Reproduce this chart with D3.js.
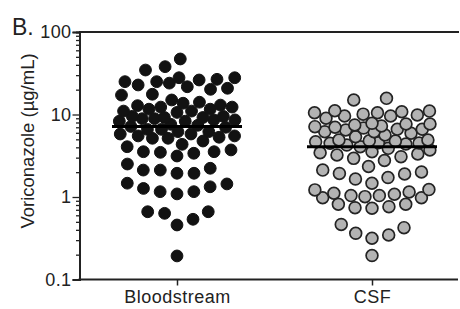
<!DOCTYPE html>
<html>
<head>
<meta charset="utf-8">
<script src="https://cdn.jsdelivr.net/npm/d3@7"></script>
<style>
  body { margin: 0; background: #fff; }
  text { font-family: "Liberation Sans", Arial, sans-serif; fill: #222; }
</style>
</head>
<body>
<svg id="chart" width="460" height="309"></svg>
<script>
// groups on the x axis
var categories = ["Bloodstream", "CSF"];

// voriconazole levels (ug/mL)
var bloodstream = [
  47.1, 38.0, 34.6,
  27.9, 26.7, 25.0, 24.0, 25.0, 26.2, 27.9,
  21.7, 20.2, 20.8, 22.8,
  17.2, 17.6,
  13.7, 15.0, 14.1,
  13.0, 12.3, 11.6, 11.0, 10.6, 11.0, 11.6, 12.3, 12.8,
  9.5, 9.2, 8.9, 8.6, 8.3, 8.3, 8.6, 8.9, 9.2, 9.5,
  7.6, 7.4, 7.16, 7.0, 6.6, 6.2, 5.8, 5.5, 5.3, 5.5, 5.8, 6.2, 6.6,
  5.15, 4.35, 3.72, 3.54, 3.39, 3.48, 3.54, 4.07, 4.77, 5.15,
  3.14, 2.51, 1.94, 1.94, 2.12, 2.12, 2.23,
  1.47, 1.33, 1.16, 1.09, 1.16, 1.27, 1.44,
  0.663, 0.537, 0.458, 0.634, 0.663,
  0.193
];

var csf = [
  15.0, 15.7,
  11.1, 10.8, 10.5, 9.86, 9.59, 9.0, 9.59, 10.1, 10.5, 11.0,
  7.82, 7.67, 7.25, 7.0, 6.62, 6.19, 5.92, 5.38, 5.65, 6.19, 6.62, 7.12, 7.46, 7.67, 6.85, 6.49,
  4.91, 4.77, 4.55, 4.26, 3.89, 3.54, 3.32, 3.23, 3.44, 3.72, 4.07, 4.48, 4.68, 4.81, 4.91, 4.51, 4.39,
  2.94, 3.08, 2.77, 2.34, 2.01, 2.12, 1.90, 1.65, 1.72, 1.93,
  1.23, 1.22, 1.47,
  1.15, 1.08, 1.04, 0.98, 0.816, 0.763, 0.730, 0.742, 0.816, 0.98, 1.01, 1.04, 1.11,
  0.465, 0.363, 0.316, 0.346, 0.425,
  0.195
];

var yTickValues = [0.1, 1, 10, 100];

function onload() {
  var svg = d3.select("#chart");

  var y = d3.scaleLog().domain([0.1, 100]).range([279.5, 32]);
  var x = d3.scalePoint().domain(categories).range([177, 372]);

  var series = [
    { name: "Bloodstream", values: bloodstream, fill: "#121212", stroke: "#121212", sw: 1 },
    { name: "CSF", values: csf, fill: "#b3b3b3", stroke: "#232323", sw: 1.7 }
  ];

  // top frame line at 100
  svg.append("line")
    .attr("x1", 79).attr("x2", 459)
    .attr("y1", y(100)).attr("y2", y(100))
    .attr("stroke", "#222").attr("stroke-width", 2);

  // y axis with log minor ticks
  var minor = [];
  [0.1, 1, 10].forEach(function (d) {
    for (var k = 2; k < 10; k++) minor.push(d * k);
  });

  var yAxis = svg.append("g").attr("transform", "translate(79.5,0)");
  yAxis.call(d3.axisLeft(y).tickValues(minor).tickSize(3.5).tickFormat(""));
  yAxis.append("g").call(d3.axisLeft(y).tickValues(yTickValues).tickSize(7).tickFormat(d3.format("")));
  yAxis.selectAll("path.domain").attr("stroke", "#222").attr("stroke-width", 2);
  yAxis.selectAll(".tick line").attr("stroke", "#222").attr("stroke-width", 1.3);
  yAxis.selectAll(".tick text")
    .attr("x", -8)
    .style("font-size", "18px")
    .style("letter-spacing", "0.4px")
    .attr("fill", "#222");

  // x axis
  var xAxis = svg.append("g").attr("transform", "translate(0,279.5)");
  xAxis.call(d3.axisBottom(x).tickSize(6).tickSizeOuter(0));
  xAxis.select("path.domain").attr("d", "M78.5,0H458").attr("stroke", "#222").attr("stroke-width", 2);
  xAxis.selectAll(".tick line").attr("stroke", "#222").attr("stroke-width", 1.5);
  xAxis.selectAll(".tick text")
    .attr("y", 11)
    .attr("dy", "0.71em")
    .style("font-size", "18px")
    .style("letter-spacing", "0.5px")
    .attr("fill", "#222");

  // y label
  svg.append("text")
    .attr("transform", "translate(34,141) rotate(-90)")
    .attr("text-anchor", "middle")
    .style("font-size", "18.5px")
    .text("Voriconazole (\u00b5g/mL)");

  // panel letter
  svg.append("text")
    .attr("x", 12).attr("y", 35)
    .style("font-size", "23px")
    .text("B.");

  // dots as a column scatter (beeswarm)
  series.forEach(function (s) {
    var pts = beeswarm(s.values, y, 17, 58);
    svg.append("g").selectAll("circle")
      .data(pts)
      .join("circle")
      .attr("cx", function (d) { return x(s.name) + d.dx; })
      .attr("cy", function (d) { return d.py; })
      .attr("r", 5.9)
      .attr("fill", s.fill)
      .attr("stroke", s.stroke)
      .attr("stroke-width", s.sw);

    var med = d3.median(s.values);
    svg.append("line")
      .attr("x1", x(s.name) - 65).attr("x2", x(s.name) + 65)
      .attr("y1", y(med)).attr("y2", y(med))
      .attr("stroke", "#000").attr("stroke-width", 3);
  });
}

// greedy beeswarm: lowest values first, each dot as close to the centre as it fits.
// if the column is full at that height the spacing is squeezed until it fits
function beeswarm(values, y, D, W) {
  var pts = values.map(function (v) { return { v: v, py: y(v) }; })
    .sort(function (a, b) { return a.v - b.v; });
  var placed = [];
  pts.forEach(function (p, i) {
    var sign = i % 2 ? 1 : -1;
    var found;
    for (var f = 1; f > 0.3 && found === undefined; f -= 0.05) {
      found = fit(p, D * f, sign);
    }
    p.dx = found === undefined ? 0 : found;
    placed.push(p);
  });

  function fit(p, d, sign) {
    var d2 = d * d;
    var cands = [0];
    placed.forEach(function (q) {
      var dy = Math.abs(q.py - p.py);
      if (dy < d) {
        var h = Math.sqrt(d2 - dy * dy);
        cands.push(q.dx - h, q.dx + h);
      }
    });
    cands = cands.filter(function (c) { return Math.abs(c) <= W + 1e-6; })
      .sort(function (a, b) {
        return Math.abs(a) - Math.abs(b) || (a - b) * sign;
      });
    return cands.find(function (c) {
      return placed.every(function (q) {
        return (q.dx - c) * (q.dx - c) + (q.py - p.py) * (q.py - p.py) >= d2 - 1e-6;
      });
    });
  }
  return pts;
}

onload();
</script>
</body>
</html>
